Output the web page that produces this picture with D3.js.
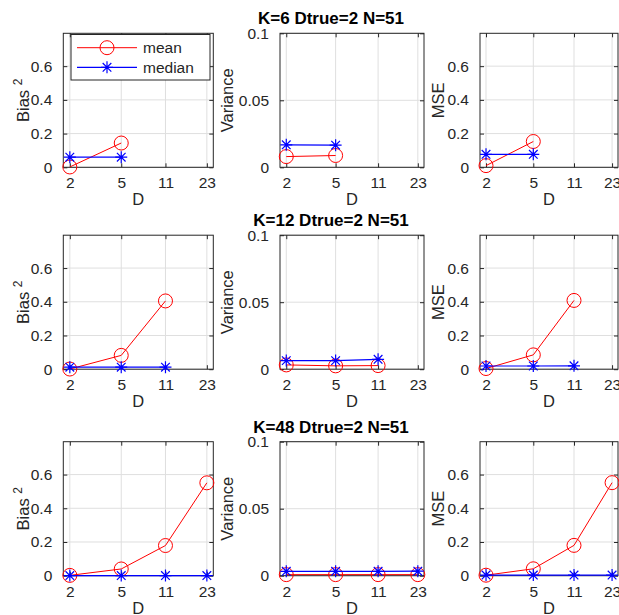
<!DOCTYPE html>
<html>
<head>
<meta charset="utf-8">
<script src="https://cdn.jsdelivr.net/npm/d3@7"></script>
<style>
  html, body { margin: 0; padding: 0; background: #fff; }
  svg { display: block; font-family: "Liberation Sans", Arial, Helvetica, sans-serif; }
</style>
</head>
<body>
<svg id="chart" width="619" height="615"></svg>
<script>
// ---------------- data ----------------
const rowTitles = ["K=6 Dtrue=2 N=51", "K=12 Dtrue=2 N=51", "K=48 Dtrue=2 N=51"];
const rowD = [[2, 5], [2, 5, 11], [2, 5, 11, 23]];
const xTickValues = [2, 5, 11, 23];
const xTickLabels = ["2", "5", "11", "23"];

const biasMean   = [[0.002, 0.144], [0.001, 0.082, 0.405], [0.002, 0.040, 0.179, 0.551]];
const biasMedian = [[0.060, 0.060], [0.012, 0.012, 0.012], [0.001, 0.001, 0.001, 0.001]];
const varMean    = [[0.0080, 0.0088], [0.0032, 0.0025, 0.0027], [0.0008, 0.0008, 0.0008, 0.0008]];
const varMedian  = [[0.0168, 0.0165], [0.0064, 0.0064, 0.0074], [0.0033, 0.0033, 0.0033, 0.0034]];
const mseMean    = [[0.010, 0.153], [0.004, 0.085, 0.408], [0.003, 0.041, 0.180, 0.552]];
const mseMedian  = [[0.077, 0.077], [0.019, 0.019, 0.020], [0.004, 0.004, 0.004, 0.004]];

const biasTicks = [0, 0.2, 0.4, 0.6];
const biasTickLabels = ["0", "0.2", "0.4", "0.6"];
const varTicks = [0, 0.05, 0.1];
const varTickLabels = ["0", "0.05", "0.1"];

const seriesNames = ["mean", "median"];
const xLabel = "D";

// ---------------- layout ----------------
const svg = d3.select("#chart");
const colX = [[63.3, 213.3], [280, 424], [480, 618]];
const rowTop = [33.3, 235.2, 441.7];
const rowH = 134;
const textCol = "#262626";
const gridCol = "#dfdfdf";
const red = "#ff0000", blue = "#0000ff";

const columns = [
  { mean: biasMean, median: biasMedian, yMax: 0.795, ticks: biasTicks, labels: biasTickLabels, ylabel: "Bias", sup: "2", labOff: 40 },
  { mean: varMean, median: varMedian, yMax: 0.1, ticks: varTicks, labels: varTickLabels, ylabel: "Variance", sup: null, labOff: 53 },
  { mean: mseMean, median: mseMedian, yMax: 0.795, ticks: biasTicks, labels: biasTickLabels, ylabel: "MSE", sup: null, labOff: 42 }
];

function starPath(s) {
  const d = s * 0.72;
  return `M${-s},0H${s}M0,${-s}V${s}M${-d},${-d}L${d},${d}M${-d},${d}L${d},${-d}`;
}

function styleAxis(gAxis) {
  gAxis.attr("font-family", null).attr("font-size", null);
  gAxis.select(".domain").remove();
  gAxis.selectAll("line").attr("stroke", textCol);
  gAxis.selectAll("text").attr("font-size", 15.5).attr("fill", textCol);
}

rowTitles.forEach((title, r) => {
  const top = rowTop[r], bottom = top + rowH;
  const Ds = rowD[r];

  svg.append("text")
    .attr("x", 331).attr("y", top - 9)
    .attr("text-anchor", "middle")
    .attr("font-size", 17).attr("font-weight", "bold")
    .attr("fill", "#000")
    .text(title);

  columns.forEach((col, c) => {
    const [left, right] = colX[c];
    const x = d3.scaleLog().domain([1.78, 25.8]).range([left, right]);
    const y = d3.scaleLinear().domain([0, col.yMax]).range([bottom, top]);
    const g = svg.append("g");

    g.append("rect").attr("x", left).attr("y", top).attr("width", right - left).attr("height", rowH).attr("fill", "#fff");

    // grid
    g.selectAll(".vg").data(xTickValues).enter().append("line")
      .attr("x1", d => x(d)).attr("x2", d => x(d)).attr("y1", top).attr("y2", bottom)
      .attr("stroke", gridCol).attr("stroke-width", 1);
    g.selectAll(".hg").data(col.ticks).enter().append("line")
      .attr("x1", left).attr("x2", right).attr("y1", d => y(d)).attr("y2", d => y(d))
      .attr("stroke", gridCol).attr("stroke-width", 1);

    // axes (ticks inward on all sides)
    const gx = g.append("g").attr("transform", `translate(0,${bottom})`)
      .call(d3.axisBottom(x).tickValues(xTickValues).tickFormat((d, i) => xTickLabels[i]).tickSizeInner(-4).tickSizeOuter(0).tickPadding(10));
    styleAxis(gx);
    const gxt = g.append("g").attr("transform", `translate(0,${top})`)
      .call(d3.axisTop(x).tickValues(xTickValues).tickFormat("").tickSizeInner(-4).tickSizeOuter(0));
    styleAxis(gxt);
    const gy = g.append("g").attr("transform", `translate(${left},0)`)
      .call(d3.axisLeft(y).tickValues(col.ticks).tickFormat((d, i) => col.labels[i]).tickSizeInner(-4).tickSizeOuter(0).tickPadding(11));
    styleAxis(gy);
    const gyr = g.append("g").attr("transform", `translate(${right},0)`)
      .call(d3.axisRight(y).tickValues(col.ticks).tickFormat("").tickSizeInner(-4).tickSizeOuter(0));
    styleAxis(gyr);

    // box
    g.append("rect").attr("x", left).attr("y", top).attr("width", right - left).attr("height", rowH)
      .attr("fill", "none").attr("stroke", textCol).attr("stroke-width", 1);

    // labels
    g.append("text")
      .attr("x", (left + right) / 2).attr("y", bottom + 38)
      .attr("text-anchor", "middle").attr("font-size", 16.5).attr("fill", textCol)
      .text(xLabel);

    const yl = g.append("text")
      .attr("transform", `translate(${left - col.labOff},${(top + bottom) / 2}) rotate(-90)`)
      .attr("text-anchor", "middle").attr("dy", "0.35em")
      .attr("font-size", 16.5).attr("fill", textCol);
    if (col.sup) {
      yl.append("tspan").text(col.ylabel + " ");
      yl.append("tspan").attr("dy", -7).attr("font-size", 12).text(col.sup);
    } else {
      yl.text(col.ylabel);
    }

    // series
    const line = d3.line().x(d => x(d[0])).y(d => y(d[1]));
    const meanPts = Ds.map((d, i) => [d, col.mean[r][i]]);
    const medPts = Ds.map((d, i) => [d, col.median[r][i]]);

    g.append("path").attr("d", line(meanPts)).attr("fill", "none").attr("stroke", red).attr("stroke-width", 1);
    g.selectAll(".mc").data(meanPts).enter().append("circle")
      .attr("cx", d => x(d[0])).attr("cy", d => y(d[1])).attr("r", 7)
      .attr("fill", "none").attr("stroke", red).attr("stroke-width", 1);

    g.append("path").attr("d", line(medPts)).attr("fill", "none").attr("stroke", blue).attr("stroke-width", 1.2);
    g.selectAll(".ms").data(medPts).enter().append("path")
      .attr("transform", d => `translate(${x(d[0])},${y(d[1])})`)
      .attr("d", starPath(6)).attr("fill", "none").attr("stroke", blue).attr("stroke-width", 1.2);

    // legend (only first panel)
    if (r === 0 && c === 0) {
      const lg = svg.append("g");
      lg.append("rect").attr("x", 71).attr("y", 34.5).attr("width", 139).attr("height", 45.5)
        .attr("fill", "#fff").attr("stroke", textCol).attr("stroke-width", 1);
      const ys = [47.7, 67.3];
      seriesNames.forEach((name, i) => {
        const col2 = i === 0 ? red : blue;
        lg.append("line").attr("x1", 77).attr("x2", 137).attr("y1", ys[i]).attr("y2", ys[i])
          .attr("stroke", col2).attr("stroke-width", i === 0 ? 1 : 1.2);
        if (i === 0) {
          lg.append("circle").attr("cx", 107).attr("cy", ys[i]).attr("r", 7).attr("fill", "none").attr("stroke", red);
        } else {
          lg.append("path").attr("transform", `translate(107,${ys[i]})`).attr("d", starPath(6))
            .attr("fill", "none").attr("stroke", blue).attr("stroke-width", 1.2);
        }
        lg.append("text").attr("x", 143).attr("y", ys[i]).attr("dy", "0.35em")
          .attr("font-size", 15.5).attr("fill", textCol).text(name);
      });
    }
  });
});
</script>
</body>
</html>
